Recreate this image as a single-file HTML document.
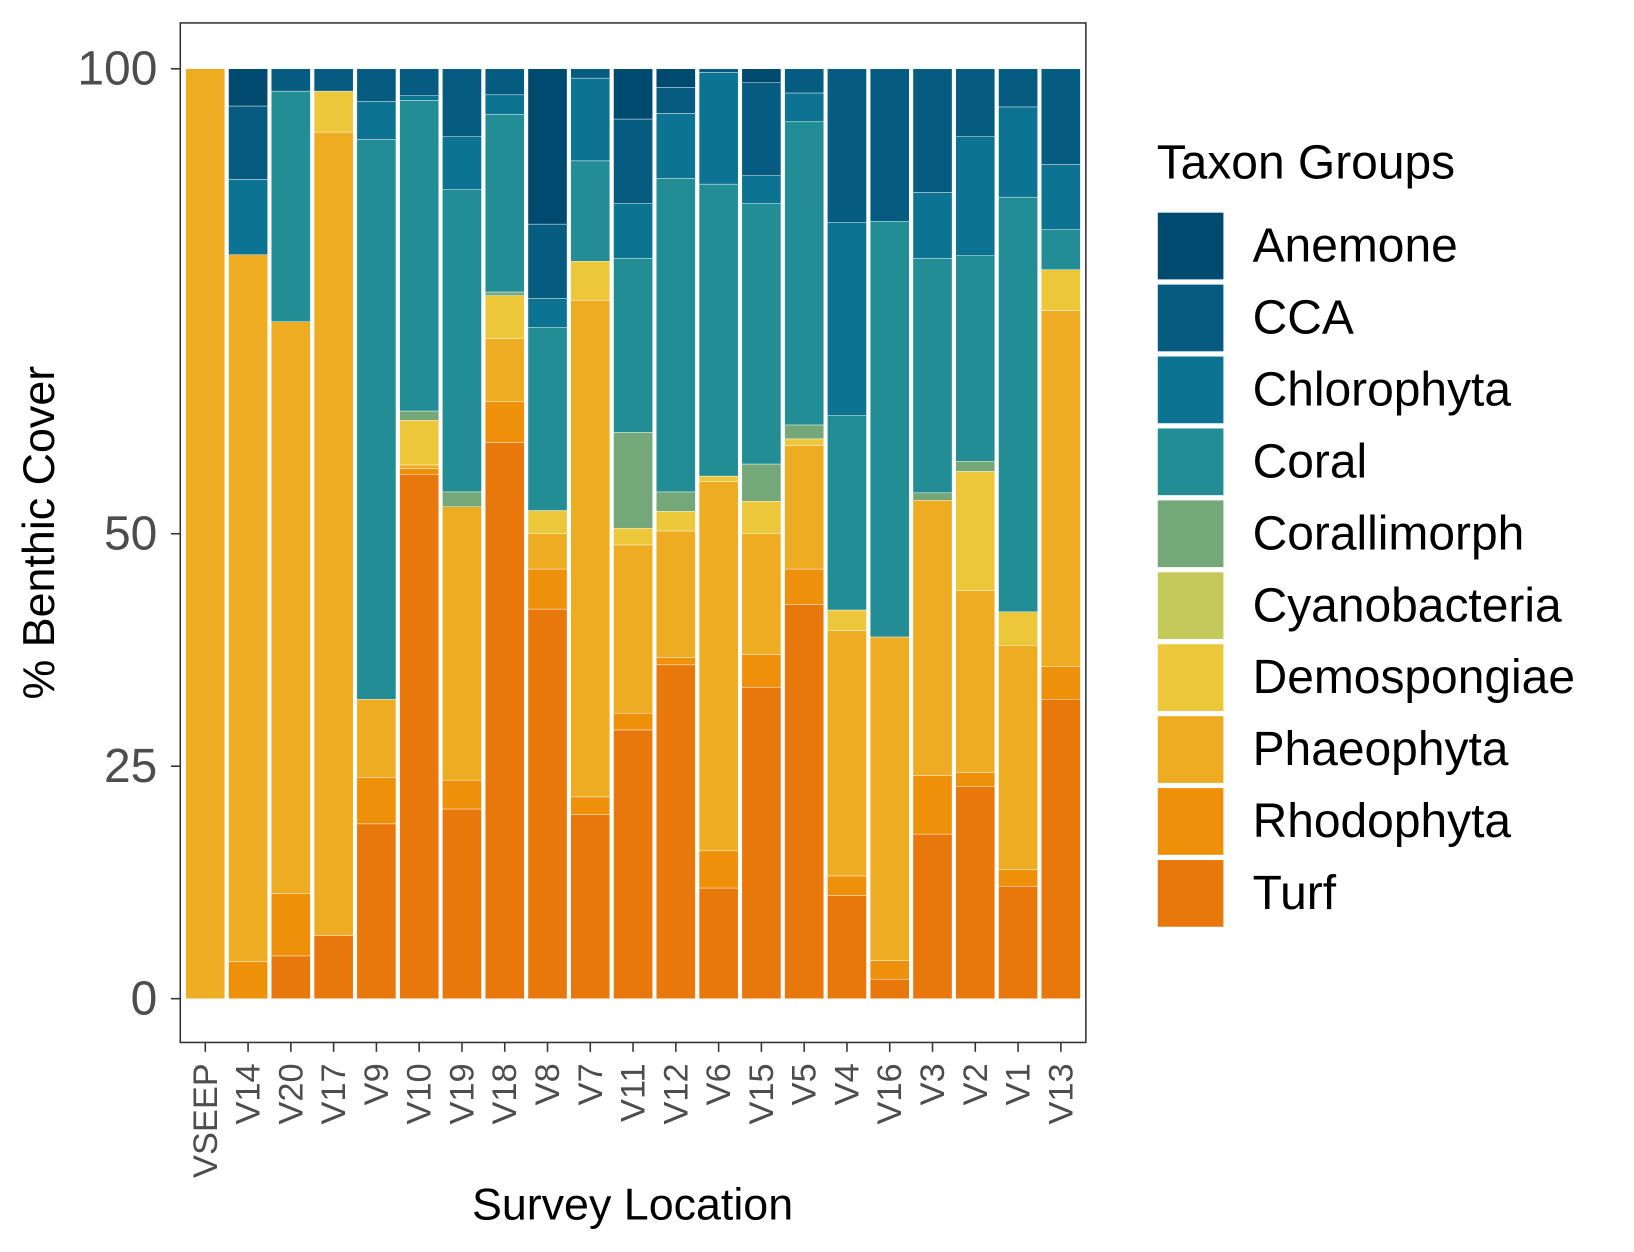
<!DOCTYPE html>
<html><head><meta charset="utf-8"><style>
html,body{margin:0;padding:0;background:#fff;}
svg{display:block;font-family:"Liberation Sans",Arial,sans-serif;}
</style></head><body>
<svg id="chart" width="1634" height="1252" viewBox="0 0 1568 1201" preserveAspectRatio="none" xmlns="http://www.w3.org/2000/svg">
<rect x="173" y="22" width="869" height="978" fill="#fff" stroke="#333" stroke-width="1.5"/>
<g id="bars"></g>
<g id="yaxis"></g>
<g id="xaxis"></g>
<text x="607" y="1170" font-size="43" text-anchor="middle" fill="#000">Survey Location</text>
<text transform="translate(52,511) rotate(-90)" font-size="43" text-anchor="middle" fill="#000">% Benthic Cover</text>
<g id="legend">
<text x="1110" y="171" font-size="46" fill="#000">Taxon Groups</text>
</g>
</svg>
<script>
const categories = ["VSEEP","V14","V20","V17","V9","V10","V19","V18","V8","V7","V11","V12","V6","V15","V5","V4","V16","V3","V2","V1","V13"];
const seriesNames = ["Turf","Rhodophyta","Phaeophyta","Cyanobacteria","Demospongiae","Corallimorph","Coral","Chlorophyta","CCA","Anemone"];
const turf = [0,0,4.6,6.8,18.8,56.4,20.4,59.8,41.9,19.8,28.9,35.9,11.9,33.5,42.4,11.1,2.1,17.7,22.8,12.1,32.2];
const rhodophyta = [0,4.0,6.7,0,5.0,0.6,3.1,4.4,4.3,1.9,1.8,0.8,4.0,3.5,3.8,2.1,2.0,6.3,1.5,1.8,3.5];
const phaeophyta = [100,76.0,61.5,86.4,8.4,0.4,29.4,6.8,3.8,53.4,18.1,13.6,39.7,13.0,13.3,26.4,34.8,29.6,19.6,24.1,38.3];
const cyanobacteria = [0,0,0,0,0,0,0,0,0,0,0,0,0,0,0,0,0,0,0,0,0];
const demospongiae = [0,0,0,4.4,0,4.8,0,4.6,2.5,4.2,1.8,2.1,0.6,3.5,0.7,2.2,0,0,12.8,3.6,4.4];
const corallimorph = [0,0,0,0,0,1.0,1.6,0.4,0,0,10.3,2.1,0,4.0,1.5,0,0,0.8,1.1,0,0];
const coral = [0,0,24.8,0,60.2,33.4,32.5,19.1,19.7,10.8,18.7,33.7,31.4,28.0,32.6,20.9,44.7,25.2,22.1,44.6,4.3];
const chlorophyta = [0,8.1,0,0,4.1,0.5,5.7,2.1,3.1,8.9,5.9,7.0,12.0,3.0,3.1,20.8,0,7.1,12.8,9.7,7.0];
const cca = [0,7.9,2.4,2.4,3.5,2.9,7.3,2.8,8.0,1.0,9.1,2.8,0.4,10.0,2.6,16.5,16.4,13.3,7.3,4.1,10.3];
const anemone = [0,4.0,0,0,0,0,0,0,16.7,0,5.4,2.0,0,1.5,0,0,0,0,0,0,0];
const yTicks = [0,25,50,100];
const colors = ["#e9780c","#ee900a","#eeac22","#c5c85a","#ecc73a","#74a878","#238d96","#0d7393","#065c80","#004a70"];
const series = [turf,rhodophyta,phaeophyta,cyanobacteria,demospongiae,corallimorph,coral,chlorophyta,cca,anemone];

const NS="http://www.w3.org/2000/svg";
const xScale = i => 197 + i*41.05;
const yScale = v => 958 - v*8.92;
const bw = 37.5;
function mk(tag, attrs, parent){const e=document.createElementNS(NS,tag);for(const k in attrs)e.setAttribute(k,attrs[k]);parent.appendChild(e);return e;}

const gb=document.getElementById('bars');
categories.forEach((c,i)=>{
  let cum=0;
  series.forEach((s,j)=>{
    const v=s[i]; if(!v) return;
    const y0=yScale(cum), y1=yScale(cum+v); cum+=v;
    const r=mk('rect',{x:xScale(i)-bw/2,y:y1,width:bw,height:y0-y1,fill:colors[j],stroke:'#fff','stroke-width':0.4},gb);
    
    
  });
});

const gy=document.getElementById('yaxis');
yTicks.forEach(t=>{
  const y=yScale(t);
  const l=mk('line',{x1:164,x2:173,y1:y,y2:y,stroke:'#333','stroke-width':1.5},gy);
  
  
  const tx=mk('text',{x:151,y:y+15,'font-size':46,'text-anchor':'end',fill:'#4d4d4d'},gy);
  tx.textContent=t;
  
  
});

const gx=document.getElementById('xaxis');
categories.forEach((c,i)=>{
  const x=xScale(i);
  const l=mk('line',{x1:x,x2:x,y1:1000,y2:1009,stroke:'#333','stroke-width':1.5},gx);
  
  
  const tx=mk('text',{transform:`translate(${x+11},1020) rotate(-90)`,'font-size':33,'text-anchor':'end',fill:'#4d4d4d'},gx);
  tx.textContent=c;
  
  
});

const gl=document.getElementById('legend');
const legendOrder=[9,8,7,6,5,3,4,2,1,0];
legendOrder.forEach((j,k)=>{
  const y=204+k*69;
  const r=mk('rect',{x:1111,y:y,width:63,height:64,fill:colors[j]},gl);
  
  
  const t=mk('text',{x:1202,y:y+47,'font-size':46,fill:'#000'},gl);
  t.textContent=seriesNames[j];
  
  
});
</script>
</body></html>
